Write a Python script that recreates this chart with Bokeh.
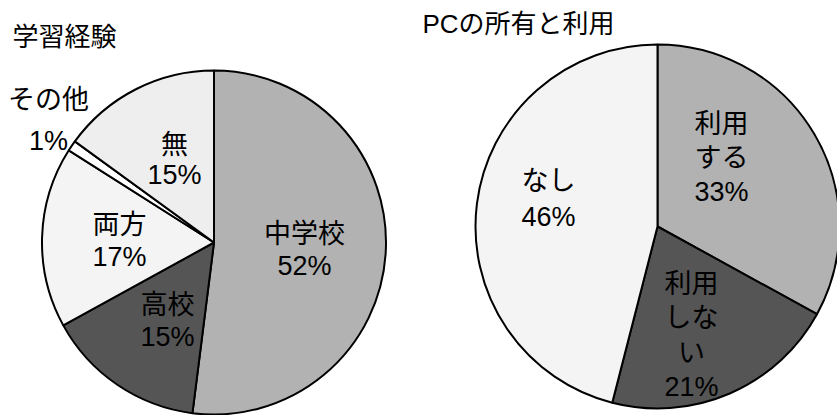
import math
from bokeh.plotting import figure
from bokeh.models import Range1d, ColumnDataSource
from bokeh.core.properties import value
from bokeh.embed import file_html
from bokeh.resources import INLINE

# ---------------- data ----------------
exp_title = "学習経験"
exp_categories = ["中学校", "高校", "両方", "その他", "無"]
exp_percent = [52, 15, 17, 1, 15]
exp_label_lines = [["中学校"], ["高校"], ["両方"], ["その他"], ["無"]]
exp_colors = ["#b2b2b2", "#555555", "#f4f4f4", "#ffffff", "#eeeeee"]

pc_title = "PCの所有と利用"
pc_categories = ["利用する", "利用しない", "なし"]
pc_percent = [33, 21, 46]
pc_label_lines = [["利用", "する"], ["利用", "しな", "い"], ["なし"]]
pc_colors = ["#b2b2b2", "#555555", "#f4f4f4"]

# ---------------- layout (pixels, y downward) ----------------
W, H = 837, 415
FONT = "Liberation Sans, Noto Sans CJK JP"
FS = "27px"
TFS = "26px"

pies = [
    dict(title=exp_title, cats=exp_categories, pct=exp_percent, lines=exp_label_lines,
         colors=exp_colors, cx=213.5, cy=242, r=172, title_xy=(12, 36),
         label_pos=[(304, 249, 32), (167, 320, 32), (119, 240, 32), (48, 119.5, 41), (174, 159, 30)]),
    dict(title=pc_title, cats=pc_categories, pct=pc_percent, lines=pc_label_lines,
         colors=pc_colors, cx=657, cy=226, r=182, title_xy=(422, 23),
         label_pos=[(721, 157, 34), (691, 335, 34.3), (548, 198, 36)]),
]

p = figure(width=W, height=H, output_backend="svg", toolbar_location=None,
           x_axis_type=None, y_axis_type=None, min_border=0,
           x_range=Range1d(0, W), y_range=Range1d(0, H))
p.outline_line_color = None
p.background_fill_color = "white"
p.border_fill_color = "white"

for pie in pies:
    total = sum(pie["pct"])
    starts, ends = [], []
    cum = 0.0
    for v in pie["pct"]:
        starts.append(math.pi / 2 - 2 * math.pi * cum / total)
        cum += v
        ends.append(math.pi / 2 - 2 * math.pi * cum / total)
    src = ColumnDataSource(dict(start=starts, end=ends, color=pie["colors"],
                                cat=pie["cats"], pct=pie["pct"]))
    p.wedge(x=pie["cx"], y=H - pie["cy"], radius=pie["r"], start_angle="start",
            end_angle="end", direction="clock", fill_color="color",
            line_color="black", line_width=2, source=src)

    # labels
    xs, ys, txt = [], [], []
    for lines, v, (lx, ly, pitch) in zip(pie["lines"], pie["pct"], pie["label_pos"]):
        all_lines = lines + [f"{v}%"]
        n = len(all_lines)
        for i, t in enumerate(all_lines):
            xs.append(lx)
            ys.append(H - (ly + (i - (n - 1) / 2) * pitch))
            txt.append(t)
    p.text(x=xs, y=ys, text=txt, text_font=value(FONT), text_font_size=FS,
           text_align="center", text_baseline="middle", text_color="black")

    tx, ty = pie["title_xy"]
    p.text(x=[tx], y=[H - ty], text=[pie["title"]], text_font=value(FONT),
           text_font_size=TFS, text_align="left", text_baseline="middle",
           text_color="black")

open("out.html", "w").write(file_html(p, INLINE))
